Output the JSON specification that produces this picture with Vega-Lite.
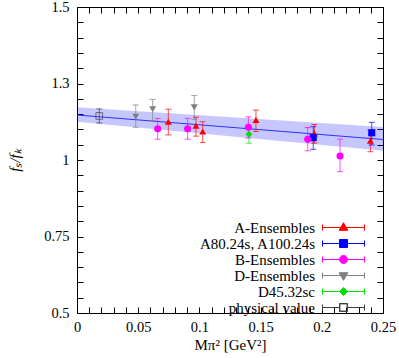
{
  "$schema": "https://vega.github.io/schema/vega-lite/v6.json",
  "width": 306,
  "height": 306,
  "autosize": "none",
  "padding": {"left": 77, "top": 7, "right": 16, "bottom": 45},
  "background": "white",
  "config": {
    "view": {"stroke": "black", "strokeWidth": 1},
    "axis": {
      "grid": false, "domain": false, "tickColor": "black", "tickWidth": 1,
      "labelFont": "Liberation Serif", "labelFontSize": 14.5, "labelColor": "black",
      "titleFont": "Liberation Serif", "titleFontSize": 15, "titleFontWeight": "normal", "titleColor": "black",
      "labelOverlap": false, "labelFlush": false, "tickSize": -6
    },
    "legend": {"labelFont": "Liberation Serif", "labelFontSize": 15, "labelColor": "black"}
  },
  "datasets": {
    "pts": [
      {"s": "A-Ensembles", "x": 0.0746, "y": 1.125, "lo": 1.082, "hi": 1.166},
      {"s": "A-Ensembles", "x": 0.0972, "y": 1.112, "lo": 1.078, "hi": 1.140},
      {"s": "A-Ensembles", "x": 0.1027, "y": 1.093, "lo": 1.057, "hi": 1.125},
      {"s": "A-Ensembles", "x": 0.1462, "y": 1.131, "lo": 1.093, "hi": 1.163},
      {"s": "A-Ensembles", "x": 0.1939, "y": 1.087, "lo": 1.055, "hi": 1.116},
      {"s": "A-Ensembles", "x": 0.2397, "y": 1.063, "lo": 1.027, "hi": 1.098},
      {"s": "A80.24s, A100.24s", "x": 0.1930, "y": 1.073, "lo": 1.035, "hi": 1.109},
      {"s": "A80.24s, A100.24s", "x": 0.2408, "y": 1.089, "lo": 1.049, "hi": 1.123},
      {"s": "B-Ensembles", "x": 0.0659, "y": 1.102, "lo": 1.068, "hi": 1.136},
      {"s": "B-Ensembles", "x": 0.0904, "y": 1.102, "lo": 1.068, "hi": 1.136},
      {"s": "B-Ensembles", "x": 0.1400, "y": 1.107, "lo": 1.072, "hi": 1.141},
      {"s": "B-Ensembles", "x": 0.1885, "y": 1.068, "lo": 1.030, "hi": 1.106},
      {"s": "B-Ensembles", "x": 0.2149, "y": 1.013, "lo": 0.962, "hi": 1.068},
      {"s": "D-Ensembles", "x": 0.0480, "y": 1.1415, "lo": 1.107, "hi": 1.180},
      {"s": "D-Ensembles", "x": 0.0618, "y": 1.166, "lo": 1.128, "hi": 1.198},
      {"s": "D-Ensembles", "x": 0.0958, "y": 1.172, "lo": 1.133, "hi": 1.211},
      {"s": "D45.32sc", "x": 0.1405, "y": 1.084, "lo": 1.055, "hi": 1.106},
      {"s": "physical value", "x": 0.0182, "y": 1.144, "lo": 1.121, "hi": 1.167}
    ],
    "band": [
      {"x": 0, "fit": 1.147, "lo": 1.125, "hi": 1.172},
      {"x": 0.25, "fit": 1.067, "lo": 1.03, "hi": 1.108}
    ]
  },
  "layer": [
    {
      "data": {"name": "band"},
      "mark": {"type": "point", "opacity": 0},
      "encoding": {
        "x": {"field": "x", "type": "quantitative", "scale": {"domain": [0, 0.25], "nice": false, "zero": false}, "title": "Mπ² [GeV²]",
          "axis": {"orient": "bottom", "ticks": false, "values": [0, 0.05, 0.1, 0.15, 0.2, 0.25],
            "format": "~g", "labelPadding": 7, "titlePadding": 4}},
        "y": {"field": "fit", "type": "quantitative", "scale": {"domain": [0.5, 1.5], "nice": false, "zero": false}, "title": "fₛ/fₖ",
          "axis": {"orient": "left", "ticks": false, "values": [0.5, 0.75, 1, 1.25, 1.5],
            "format": "~g", "labelPadding": 8, "titlePadding": 21, "titleFontStyle": "italic"}}
      }
    },
    {
      "data": {"name": "band"},
      "mark": {"type": "area", "color": "#0000ff", "opacity": 0.22},
      "encoding": {
        "x": {"field": "x", "type": "quantitative", "axis": null},
        "y": {"field": "lo", "type": "quantitative", "axis": null},
        "y2": {"field": "hi"}
      }
    },
    {
      "data": {"name": "band"},
      "mark": {"type": "line", "color": "#3030ff", "strokeWidth": 1},
      "encoding": {
        "x": {"field": "x", "type": "quantitative", "axis": null},
        "y": {"field": "fit", "type": "quantitative", "axis": null}
      }
    },
    {
      "data": {"name": "pts"},
      "mark": {"type": "rule", "strokeWidth": 1, "opacity": 0.7},
      "encoding": {
        "x": {"field": "x", "type": "quantitative", "axis": null},
        "y": {"field": "lo", "type": "quantitative", "axis": null},
        "y2": {"field": "hi"},
        "color": {"field": "s", "type": "nominal"}
      }
    },
    {
      "data": {"name": "pts"},
      "mark": {"type": "tick", "orient": "horizontal", "size": 6, "thickness": 1, "opacity": 0.7},
      "encoding": {
        "x": {"field": "x", "type": "quantitative", "axis": null},
        "y": {"field": "lo", "type": "quantitative", "axis": null},
        "color": {"field": "s", "type": "nominal"}
      }
    },
    {
      "data": {"name": "pts"},
      "mark": {"type": "tick", "orient": "horizontal", "size": 6, "thickness": 1, "opacity": 0.7},
      "encoding": {
        "x": {"field": "x", "type": "quantitative", "axis": null},
        "y": {"field": "hi", "type": "quantitative", "axis": null},
        "color": {"field": "s", "type": "nominal"}
      }
    },
    {
      "data": {"name": "pts"},
      "mark": {"type": "point", "filled": true, "opacity": 1, "size": 50},
      "transform": [{"filter": "datum.s !== 'physical value'"}],
      "encoding": {
        "x": {"field": "x", "type": "quantitative", "axis": null},
        "y": {"field": "y", "type": "quantitative", "axis": null},
        "shape": {"field": "s", "type": "nominal",
          "scale": {"domain": ["A-Ensembles", "A80.24s, A100.24s", "B-Ensembles", "D-Ensembles", "D45.32sc"],
            "range": ["triangle-up", "square", "circle", "triangle-down", "diamond"]}, "legend": null},
        "color": {"field": "s", "type": "nominal", "title": null,
          "scale": {"domain": ["A-Ensembles", "A80.24s, A100.24s", "B-Ensembles", "D-Ensembles", "D45.32sc", "physical value"],
            "range": ["#ff0000", "#0000ff", "#ff00ff", "#808080", "#00e000", "#404040"]},
          "legend": {
            "orient": "none", "legendX": 259, "legendY": 213, "padding": 0,
            "values": ["A-Ensembles", "A80.24s, A100.24s", "B-Ensembles", "D-Ensembles", "D45.32sc", "physical value"],
            "symbolSize": 64, "symbolStrokeWidth": 1, "symbolOpacity": 1,
            "labelAlign": "right", "labelOffset": -36, "rowPadding": -1.4,
            "encode": {"symbols": {"update": {
              "shape": {"signal": "datum.value === 'A-Ensembles' ? 'M-5.25,0H5.25M-5.25,-0.75V0.75M5.25,-0.75V0.75M0,-1.2L1.1,0.7L-1.1,0.7Z' : datum.value === 'A80.24s, A100.24s' ? 'M-5.25,0H5.25M-5.25,-0.75V0.75M5.25,-0.75V0.75M-1,-1H1V1H-1Z' : datum.value === 'B-Ensembles' ? 'M-5.25,0H5.25M-5.25,-0.75V0.75M5.25,-0.75V0.75M-1,0A1,1,0,1,0,1,0A1,1,0,1,0,-1,0Z' : datum.value === 'D-Ensembles' ? 'M-5.25,0H5.25M-5.25,-0.75V0.75M5.25,-0.75V0.75M0,1.2L1.1,-0.7L-1.1,-0.7Z' : datum.value === 'D45.32sc' ? 'M-5.25,0H5.25M-5.25,-0.75V0.75M5.25,-0.75V0.75M0,-1L1,0L0,1L-1,0Z' : 'M-5.25,0H-1M1,0H5.25M-5.25,-0.75V0.75M5.25,-0.75V0.75M-1,-1H1V1H-1ZM-0.9,-0.9V0.9H0.9V-0.9Z'"}
            }}}
          }}
      }
    },
    {
      "data": {"name": "pts"},
      "mark": {"type": "point", "filled": false, "size": 45, "shape": "square", "strokeWidth": 1},
      "transform": [{"filter": "datum.s === 'physical value'"}],
      "encoding": {
        "x": {"field": "x", "type": "quantitative", "axis": null},
        "y": {"field": "y", "type": "quantitative", "axis": null},
        "color": {"field": "s", "type": "nominal"}
      }
    },
    {
      "data": {"name": "band"},
      "mark": {"type": "point", "opacity": 0},
      "encoding": {
        "x": {"field": "x", "type": "quantitative", "title": null,
          "axis": {"orient": "top", "offset": -306, "tickSize": 6, "labels": false, "values": [0,0.01,0.02,0.03,0.04,0.05,0.06,0.07,0.08,0.09,0.1,0.11,0.12,0.13,0.14,0.15,0.16,0.17,0.18,0.19,0.2,0.21,0.22,0.23,0.24,0.25]}},
        "y": {"field": "fit", "type": "quantitative", "title": null,
          "axis": {"orient": "right", "offset": -306, "tickSize": 6, "labels": false, "values": [0.5,0.55,0.6,0.65,0.7,0.75,0.8,0.85,0.9,0.95,1,1.05,1.1,1.15,1.2,1.25,1.3,1.35,1.4,1.45,1.5]}}
      }
    },
    {
      "data": {"name": "band"},
      "mark": {"type": "point", "opacity": 0},
      "encoding": {
        "x": {"field": "x", "type": "quantitative", "title": null,
          "axis": {"orient": "top", "labels": false, "values": [0,0.01,0.02,0.03,0.04,0.05,0.06,0.07,0.08,0.09,0.1,0.11,0.12,0.13,0.14,0.15,0.16,0.17,0.18,0.19,0.2,0.21,0.22,0.23,0.24,0.25]}},
        "y": {"field": "fit", "type": "quantitative", "title": null,
          "axis": {"orient": "right", "labels": false, "values": [0.5,0.55,0.6,0.65,0.7,0.75,0.8,0.85,0.9,0.95,1,1.05,1.1,1.15,1.2,1.25,1.3,1.35,1.4,1.45,1.5]}}
      }
    }
  ],
  "resolve": {"axis": {"x": "independent", "y": "independent"}}
}
